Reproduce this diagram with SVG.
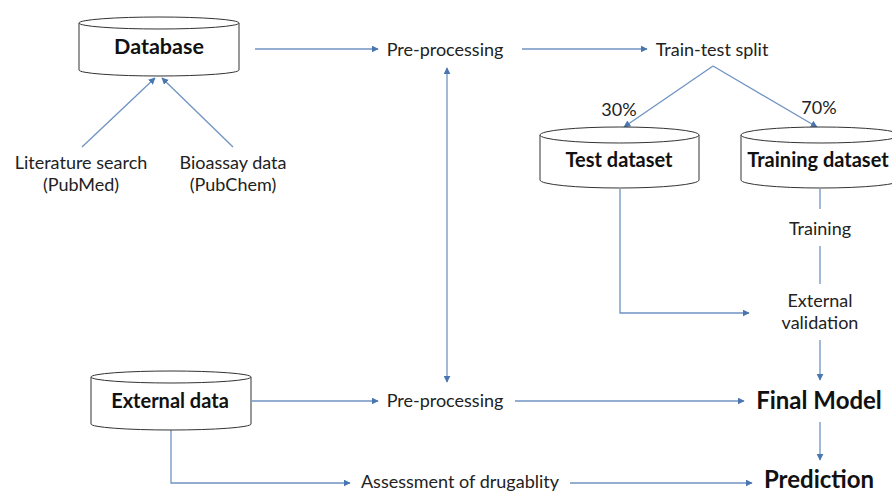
<svg xmlns="http://www.w3.org/2000/svg" width="892" height="493" viewBox="0 0 892 493">
<style>
.t{font-family:Lato,"Open Sans","Liberation Sans",sans-serif;fill:#222;font-size:18px}
.b{font-family:Lato,"Open Sans","Liberation Sans",sans-serif;fill:#111;font-weight:bold;font-size:20px}
.big{font-family:Lato,"Open Sans","Liberation Sans",sans-serif;fill:#111;font-weight:bold;font-size:24px}
.cyl{fill:#fff;stroke:#333;stroke-width:1}
.c{fill:none;stroke:#6f93c2;stroke-width:1.3}
.a{marker-end:url(#ah)}
</style>
<defs>
<marker id="ah" viewBox="0 0 10 10" refX="9" refY="5" markerWidth="7" markerHeight="7" markerUnits="userSpaceOnUse" orient="auto">
<path d="M0,0 L10,5 L0,10 z" fill="#4a76b0"/>
</marker>
<marker id="as" viewBox="0 0 10 10" refX="1" refY="5" markerWidth="7" markerHeight="7" markerUnits="userSpaceOnUse" orient="auto">
<path d="M10,0 L0,5 L10,10 z" fill="#4a76b0"/>
</marker>
</defs>
<rect width="892" height="493" fill="#fff"/>

<g id="connectors">
<path class="c a" d="M82,147 L155,78"/>
<path class="c a" d="M233,147 L162,78"/>
<path class="c a" d="M255,49 L378,49"/>
<path class="c a" d="M522,49 L647,49"/>
<path class="c a" d="M713,66 L624,127"/>
<path class="c a" d="M713,66 L817,127"/>
<path class="c a" d="M447,68 L447,382" style="marker-start:url(#as)"/>
<path class="c a" d="M620,189 L620,313 L749,313"/>
<path class="c" d="M820,189 L820,209"/>
<path class="c" d="M820,246 L820,284"/>
<path class="c a" d="M820,340 L820,380"/>
<path class="c a" d="M820,422 L820,460"/>
<path class="c a" d="M252,401 L378,401"/>
<path class="c a" d="M515,401 L744,401"/>
<path class="c a" d="M171,430 L171,483 L350,483"/>
<path class="c a" d="M570,483 L752,483"/>
</g>

<g id="database">
<path class="cyl" d="M79,23 L79,70 A80,6 0 0 0 239,70 L239,23"/>
<ellipse class="cyl" cx="159" cy="23" rx="80" ry="6"/>
<text class="b" x="159" y="54" text-anchor="middle" style="font-size:21.5px">Database</text>
</g>

<g id="literature">
<text class="t" x="81" y="169" text-anchor="middle">Literature search</text>
<text class="t" x="81" y="191" text-anchor="middle">(PubMed)</text>
</g>
<g id="bioassay">
<text class="t" x="233" y="169" text-anchor="middle">Bioassay data</text>
<text class="t" x="233" y="191" text-anchor="middle">(PubChem)</text>
</g>

<g id="preprocessing1">
<text class="t" x="445" y="56" text-anchor="middle">Pre-processing</text>
</g>
<g id="traintest">
<text class="t" x="712" y="56" text-anchor="middle">Train-test split</text>
</g>
<g id="pct30"><text class="t" x="619" y="116" text-anchor="middle">30%</text></g>
<g id="pct70"><text class="t" x="819" y="114" text-anchor="middle">70%</text></g>

<g id="testdataset">
<path class="cyl" d="M540,135 L540,180 A79.5,8 0 0 0 699,180 L699,135"/>
<ellipse class="cyl" cx="619.5" cy="135" rx="79.5" ry="8"/>
<text class="b" x="619" y="167" text-anchor="middle">Test dataset</text>
</g>

<g id="trainingdataset">
<path class="cyl" d="M741,135 L741,180 A80,8 0 0 0 901,180 L901,135"/>
<ellipse class="cyl" cx="821" cy="135" rx="80" ry="8"/>
<text class="b" x="818" y="167" text-anchor="middle">Training dataset</text>
</g>

<g id="training"><text class="t" x="820" y="235" text-anchor="middle">Training</text></g>
<g id="extval">
<text class="t" x="820" y="307" text-anchor="middle">External</text>
<text class="t" x="820" y="329" text-anchor="middle">validation</text>
</g>

<g id="externaldata">
<path class="cyl" d="M91,377 L91,424 A80,6 0 0 0 251,424 L251,377"/>
<ellipse class="cyl" cx="171" cy="377" rx="80" ry="6"/>
<text class="b" x="170" y="408" text-anchor="middle">External data</text>
</g>

<g id="preprocessing2"><text class="t" x="445" y="407" text-anchor="middle">Pre-processing</text></g>
<g id="assessment"><text class="t" x="460" y="488" text-anchor="middle">Assessment of drugablity</text></g>
<g id="finalmodel"><text class="big" x="819" y="409" text-anchor="middle">Final Model</text></g>
<g id="prediction"><text class="big" x="819" y="488" text-anchor="middle">Prediction</text></g>
</svg>
